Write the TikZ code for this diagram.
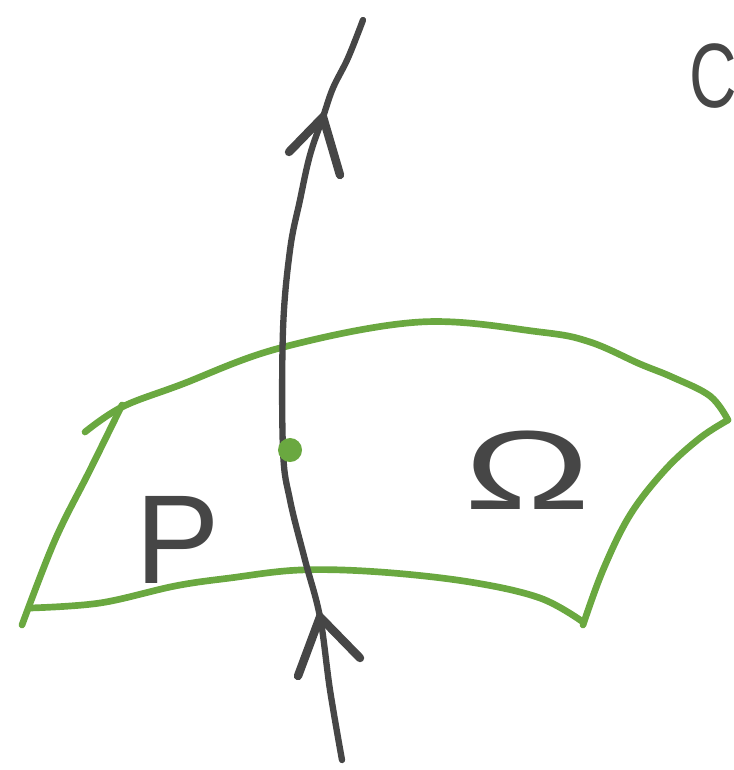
\documentclass[tikz,border=0pt]{standalone}
\usepackage{fontspec}
\setmainfont{Liberation Sans}
\usepackage{tikz}
\usetikzlibrary{positioning, calc}
\definecolor{ink}{HTML}{464646}
\definecolor{leaf}{HTML}{6AA840}

\begin{document}
\begin{tikzpicture}[
    x=0.01cm, y=-0.01cm,
    edge/.style={draw=leaf, line width=1.9pt, line cap=round, line join=round},
    pathline/.style={draw=ink, line width=1.8pt, line cap=round},
    barb/.style={draw=ink, line width=2.4pt, line cap=round},
    point/.style={circle, fill=leaf, inner sep=0pt, minimum size=0.24cm},
    label/.style={text=ink, inner sep=0pt}
]
    \useasboundingbox (0,0) rectangle (733,770);

    % surface
    \draw[edge] plot[smooth, tension=0.6] coordinates {(85,432) (122,407) (180,385) (280,348)
        (420,322) (540,332) (590,342) (640,364) (672,377) (710,396) (728,420)};
    \draw[edge] plot[smooth, tension=0.6] coordinates {(728,420) (700,438) (665,470)
        (630,515) (603,570) (583,625)};
    \draw[edge] plot[smooth, tension=0.6] coordinates {(583,622) (540,598) (470,582)
        (380,572) (300,570) (230,578) (175,586) (100,603) (30,608)};
    \draw[edge] plot[smooth, tension=0.6] coordinates {(122,405) (90,470) (55,540) (22,625)};

    % curve through the point
    \coordinate (low) at (342,760);
    \coordinate (high) at (363,20);
    \coordinate (tipA) at (320,617);
    \coordinate (tipB) at (323,117);
    \draw[pathline] plot[smooth, tension=0.6] coordinates {(low) (330,690) (tipA) (305,560)
        (290,500) (283,450) (283,330) (290,250) (300,200) (310,155) (tipB) (333,88) (348,58) (high)};

    % arrows
    \draw[barb] (298,676) -- (tipA) -- (360,658);
    \draw[barb] (289,152) -- (tipB) -- (340,175);

    \node[point] (pt) at (290,450) {};

    % labels
    \node[label, font=\fontsize{36}{36}\selectfont] (lblP) at (178,540) {P};
    \node[label, font=\fontsize{32}{32}\selectfont] (lblO) at (528,470) {\scalebox{1.5}[1]{Ω}};
    \node[label, font=\fontsize{26}{26}\selectfont, anchor=west] (lblC) at (689,76) {\scalebox{0.72}[1]{C}};
\end{tikzpicture}
\end{document}
